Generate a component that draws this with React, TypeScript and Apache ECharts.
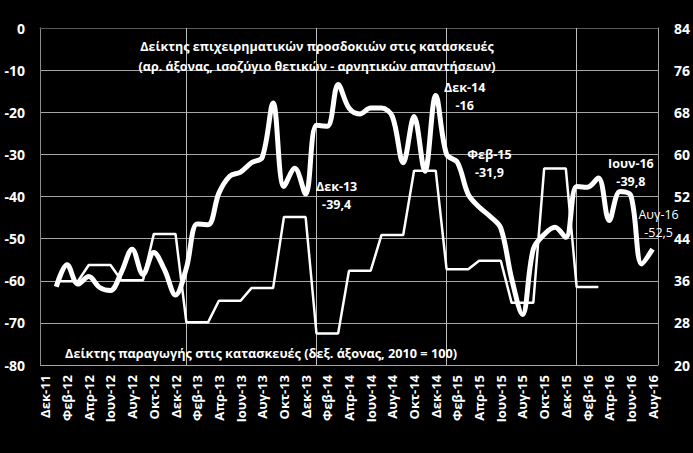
import React, { useEffect, useRef } from "react";
import * as echarts from "echarts";

const categories = [
  "Δεκ-11",
  "Ιαν-12", "Φεβ-12", "Μαρ-12", "Απρ-12", "Μαι-12", "Ιουν-12", "Ιουλ-12", "Αυγ-12", "Σεπ-12", "Οκτ-12", "Νοε-12", "Δεκ-12",
  "Ιαν-13", "Φεβ-13", "Μαρ-13", "Απρ-13", "Μαι-13", "Ιουν-13", "Ιουλ-13", "Αυγ-13", "Σεπ-13", "Οκτ-13", "Νοε-13", "Δεκ-13",
  "Ιαν-14", "Φεβ-14", "Μαρ-14", "Απρ-14", "Μαι-14", "Ιουν-14", "Ιουλ-14", "Αυγ-14", "Σεπ-14", "Οκτ-14", "Νοε-14", "Δεκ-14",
  "Ιαν-15", "Φεβ-15", "Μαρ-15", "Απρ-15", "Μαι-15", "Ιουν-15", "Ιουλ-15", "Αυγ-15", "Σεπ-15", "Οκτ-15", "Νοε-15", "Δεκ-15",
  "Ιαν-16", "Φεβ-16", "Μαρ-16", "Απρ-16", "Μαι-16", "Ιουν-16", "Ιουλ-16", "Αυγ-16",
];

// Business expectations index in construction (left axis, balance)
const expectations = [
  null,
  -61.4, -56.2, -60.8, -59.0, -61.6, -62.3, -58.0, -52.5, -58.5, -53.3, -57.5, -63.4,
  -57.0, -46.5, -46.7, -39.2, -35.2, -34.2, -32.0, -30.7, -17.8, -37.6, -33.3, -39.4,
  -23.1, -23.3, -13.4, -19.0, -20.4, -19.0, -19.0, -21.0, -32.0, -21.0, -34.0, -16.0,
  -30.0, -31.9, -39.5, -42.5, -44.7, -47.5, -59.5, -68.0, -52.5, -49.0, -47.3, -49.7,
  -37.6, -37.8, -35.6, -45.7, -38.8, -39.8, -56.0, -52.5,
];

// Production index in construction (right axis, 2010 = 100), quarterly values shown monthly
const production = [
  null,
  35.9, 35.9, 35.9, 39.0, 39.0, 39.0, 36.1, 36.1, 36.1, 44.9, 44.9, 44.9,
  28.1, 28.1, 28.1, 32.2, 32.2, 32.2, 34.6, 34.6, 34.6, 48.1, 48.1, 48.1,
  26.0, 26.0, 26.0, 37.9, 37.9, 37.9, 44.7, 44.7, 44.7, 56.9, 56.9, 56.9,
  38.2, 38.2, 38.2, 39.8, 39.8, 39.8, 31.8, 31.8, 31.8, 57.3, 57.3, 57.3,
  34.8, 34.8, 34.8, null, null, null, null, null,
];

const yearStarts = ["Ιαν-13", "Ιαν-14", "Ιαν-15", "Ιαν-16"];

const leftTicks = { min: -80, max: 0, interval: 10 };
const rightTicks = { min: 20, max: 84, interval: 8 };

const annotations = [
  { cat: "Δεκ-13", text: "Δεκ-13\n-39,4", dx: 31, dy: 2, bold: true },
  { cat: "Δεκ-14", text: "Δεκ-14\n-16", dx: 29, dy: 1, bold: true },
  { cat: "Φεβ-15", text: "Φεβ-15\n-31,9", dx: 32, dy: 1, bold: true },
  { cat: "Ιουν-16", text: "Ιουν-16\n-39,8", dx: 0, dy: -23, bold: true },
  { cat: "Αυγ-16", text: "Αυγ-16\n-52,5", dx: 6, dy: -26, bold: false },
];

const titleTop = "Δείκτης επιχειρηματικών προσδοκιών στις κατασκευές\n(αρ. άξονας, ισοζύγιο θετικών - αρνητικών απαντήσεων)";
const titleBottom = "Δείκτης παραγωγής στις κατασκευές (δεξ. άξονας, 2010 = 100)";

const FONT = "'Open Sans', 'Noto Sans', sans-serif";

export default function App() {
  const ref = useRef<HTMLDivElement>(null);
  useEffect(() => {
    if (!ref.current) return;
    const chart = echarts.init(ref.current, null, { renderer: "svg" });

    const markPoints = annotations.map((ann) => {
      const i = categories.indexOf(ann.cat);
      return {
        coord: [ann.cat, expectations[i]],
        symbol: "circle",
        symbolSize: 1,
        itemStyle: { color: "rgba(0,0,0,0)" },
        label: {
          show: true,
          position: "inside",
          offset: [ann.dx, ann.dy],
          formatter: ann.text,
          color: "#fff",
          fontFamily: FONT,
          fontSize: 12.5,
          fontWeight: ann.bold ? "bold" : "normal",
          lineHeight: 18,
          align: "center",
          verticalAlign: "middle",
        },
      };
    });

    chart.setOption({
      animation: false,
      backgroundColor: "#000",
      textStyle: { fontFamily: FONT },
      title: [
        {
          text: titleTop,
          left: 312,
          top: 31,
          textAlign: "center",
          textStyle: { color: "#fff", fontSize: 12.5, fontWeight: "bold", lineHeight: 20, fontFamily: FONT },
        },
        {
          text: titleBottom,
          left: 256,
          top: 341,
          textAlign: "center",
          textStyle: { color: "#fff", fontSize: 12.7, fontWeight: "bold", fontFamily: FONT },
        },
      ],
      grid: { left: 40, right: 34, top: 28, bottom: 88, containLabel: false },
      xAxis: {
        type: "category",
        data: categories,
        boundaryGap: true,
        axisLine: { show: true, lineStyle: { color: "#595959", width: 1 } },
        axisTick: { show: false },
        splitLine: { show: false },
        axisLabel: {
          interval: 1,
          rotate: 90,
          margin: 10,
          color: "#fff",
          fontSize: 13,
          fontWeight: "bold",
          fontFamily: FONT,
        },
      },
      yAxis: [
        {
          type: "value",
          position: "left",
          min: leftTicks.min,
          max: leftTicks.max,
          interval: leftTicks.interval,
          axisLine: { show: true, lineStyle: { color: "#8c8c8c" } },
          axisTick: { show: false },
          splitLine: { show: true, lineStyle: { color: "#a6a6a6", width: 1 } },
          axisLabel: { color: "#fff", fontSize: 14, fontWeight: "bold", margin: 15, fontFamily: FONT },
        },
        {
          type: "value",
          position: "right",
          min: rightTicks.min,
          max: rightTicks.max,
          interval: rightTicks.interval,
          axisLine: { show: true, lineStyle: { color: "#a6a6a6" } },
          axisTick: { show: false },
          splitLine: { show: false },
          axisLabel: { color: "#fff", fontSize: 14, fontWeight: "bold", margin: 16, fontFamily: FONT },
        },
      ],
      series: [
        {
          name: "production",
          type: "line",
          yAxisIndex: 1,
          data: production,
          smooth: false,
          showSymbol: false,
          symbol: "none",
          lineStyle: { color: "#fff", width: 2.5 },
          z: 2,
        },
        {
          name: "expectations",
          type: "line",
          yAxisIndex: 0,
          data: expectations,
          smooth: 0.35,
          showSymbol: false,
          symbol: "none",
          lineStyle: { color: "#fff", width: 5 },
          z: 3,
          markPoint: {
            silent: true,
            data: markPoints,
          },
          markLine: {
            silent: true,
            symbol: "none",
            label: { show: false },
            lineStyle: { color: "#bfbfbf", width: 1, type: "solid" },
            data: yearStarts.map((c) => ({ xAxis: c })),
            z: 1,
          },
        },
      ],
    });
    return () => chart.dispose();
  }, []);
  return (
    <div
      ref={ref}
      style={{ position: "fixed", left: 0, top: 0, width: 693, height: 453, background: "#000" }}
    />
  );
}
